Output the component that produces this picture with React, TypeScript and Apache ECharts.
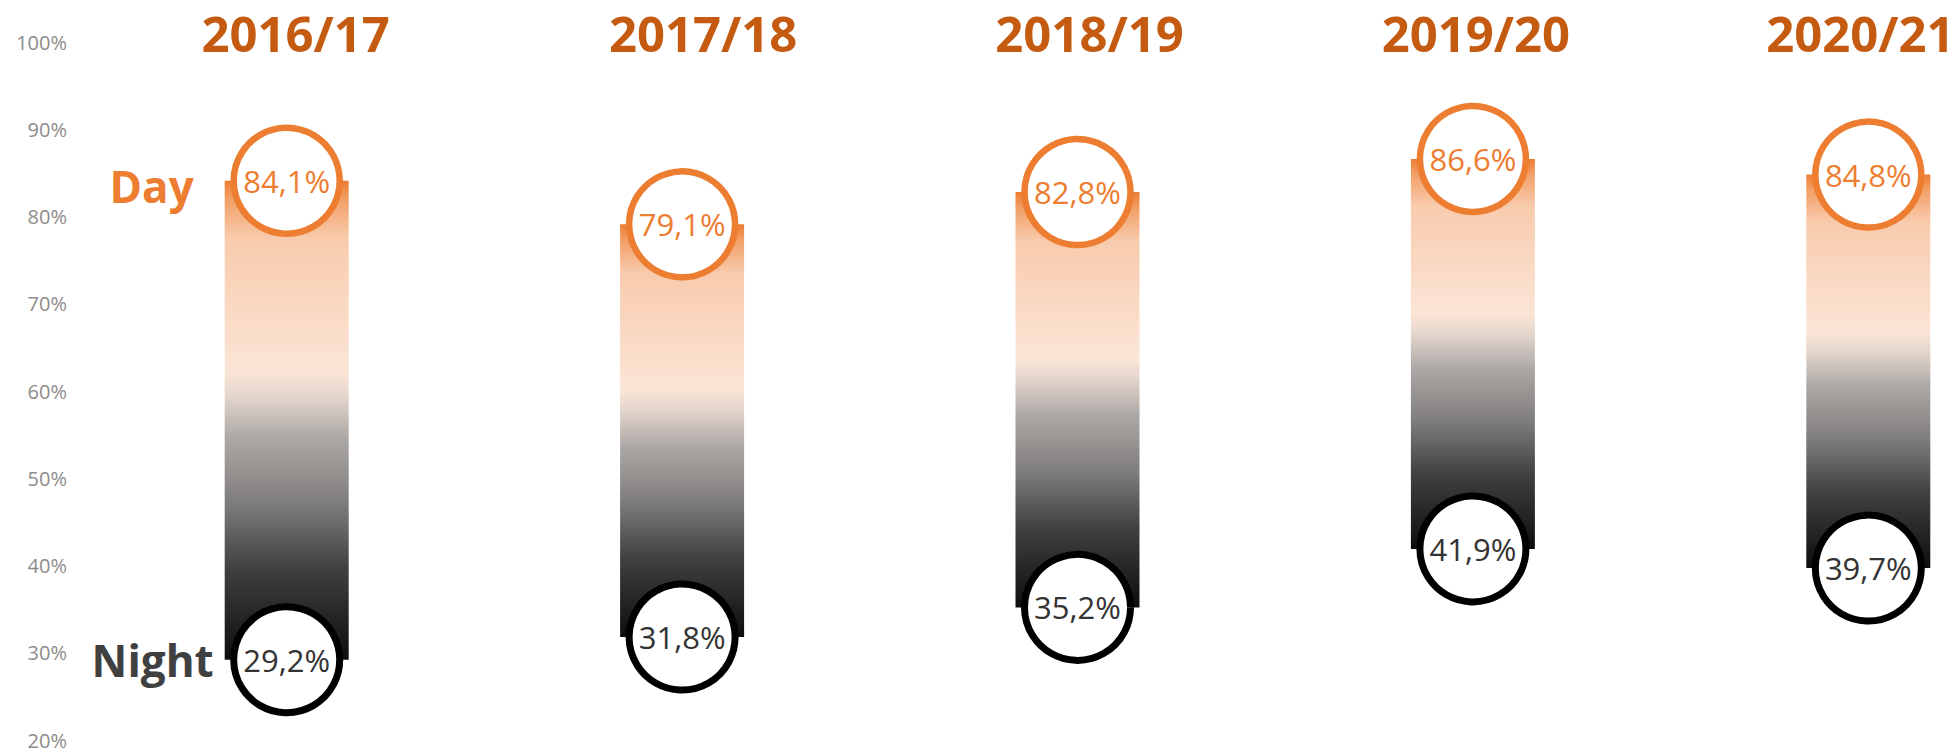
import React, { useEffect, useRef } from "react";
import * as echarts from "echarts";

const years = ["2016/17", "2017/18", "2018/19", "2019/20", "2020/21"];
const dayValues = [84.1, 79.1, 82.8, 86.6, 84.8];
const nightValues = [29.2, 31.8, 35.2, 41.9, 39.7];
const yMin = 20;
const yMax = 100;
const yInterval = 10;
// horizontal nudge of each year heading relative to its column (px)
const titleShift = [9, 21, 12, 3, -8];

const FONT = "'Open Sans', 'Noto Sans', sans-serif";
const ORANGE = "#ED7D31";
const DARK_ORANGE = "#C55A11";

const fmt = (v: number) => v.toFixed(1).replace(".", ",") + "%";

export default function App() {
  const ref = useRef<HTMLDivElement>(null);

  useEffect(() => {
    if (!ref.current) return;
    const chart = echarts.init(ref.current, null, { renderer: "svg" });

    const gradient = new echarts.graphic.LinearGradient(0, 0, 0, 1, [
      { offset: 0, color: "#ED7D31" },
      { offset: 0.04, color: "#F2A067" },
      { offset: 0.12, color: "#F8CBAD" },
      { offset: 0.4, color: "#FBE5D6" },
      { offset: 0.45, color: "#E3D5CC" },
      { offset: 0.54, color: "#ABA7A5" },
      { offset: 0.67, color: "#807E7D" },
      { offset: 0.81, color: "#404040" },
      { offset: 1, color: "#0D0D0D" },
    ]);

    const rangeValues = dayValues.map((d, i) => +(d - nightValues[i]).toFixed(1));

    const circleSize = 106;

    chart.setOption({
      animation: false,
      grid: { left: 89, top: 42, width: 1977, bottom: 12, outerBoundsMode: "none", containLabel: false },
      xAxis: {
        type: "category",
        position: "top",
        data: years.map((y, i) => ({
          value: y,
          textStyle: {
            fontFamily: FONT,
            fontSize: 49,
            fontWeight: "bold",
            color: DARK_ORANGE,
            verticalAlign: "middle",
            padding: titleShift[i] >= 0 ? [0, 0, 0, 2 * titleShift[i]] : [0, -2 * titleShift[i], 0, 0],
          },
        })),
        axisLine: { show: false },
        axisTick: { show: false },
        axisLabel: {
          fontFamily: FONT,
          fontSize: 49,
          fontWeight: "bold",
          color: DARK_ORANGE,
          margin: 9,
          verticalAlign: "middle",
        },
      },
      yAxis: {
        type: "value",
        min: yMin,
        max: yMax,
        interval: yInterval,
        axisLine: { show: false },
        axisTick: { show: false },
        splitLine: { show: false },
        axisLabel: {
          formatter: "{value}%",
          fontFamily: FONT,
          fontSize: 20,
          color: "#8C8C8C",
          margin: 22,
        },
      },
      series: [
        {
          type: "bar",
          stack: "range",
          data: nightValues,
          barWidth: 124,
          silent: true,
          itemStyle: { color: "transparent" },
        },
        {
          type: "bar",
          stack: "range",
          data: rangeValues,
          barWidth: 124,
          silent: true,
          itemStyle: { color: gradient },
        },
        {
          name: "Day",
          type: "scatter",
          data: dayValues,
          symbol: "circle",
          symbolSize: circleSize,
          z: 5,
          itemStyle: { color: "#fff", borderColor: ORANGE, borderWidth: 6.5, opacity: 1 },
          label: {
            show: true,
            position: "inside",
            formatter: (p: any) => fmt(p.value),
            fontFamily: FONT,
            fontSize: 31,
            color: ORANGE,
          },
        },
        {
          name: "Night",
          type: "scatter",
          data: nightValues,
          symbol: "circle",
          symbolSize: circleSize,
          z: 5,
          itemStyle: { color: "#fff", borderColor: "#000", borderWidth: 7, opacity: 1 },
          label: {
            show: true,
            position: "inside",
            formatter: (p: any) => fmt(p.value),
            fontFamily: FONT,
            fontSize: 31,
            color: "#333333",
          },
        },
        {
          type: "scatter",
          silent: true,
          symbolSize: circleSize,
          itemStyle: { color: "rgba(0,0,0,0)", opacity: 1 },
          z: 6,
          data: dayValues.map((v, i) => ({
            value: v,
            label: {
              show: i === 0,
              position: "left",
              distance: 40,
              formatter: "Day",
              fontFamily: FONT,
              fontSize: 44,
              fontWeight: "bold",
              color: ORANGE,
              offset: [0, 5],
            },
          })),
        },
        {
          type: "scatter",
          silent: true,
          symbolSize: circleSize,
          itemStyle: { color: "rgba(0,0,0,0)", opacity: 1 },
          z: 6,
          data: nightValues.map((v, i) => ({
            value: v,
            label: {
              show: i === 0,
              position: "left",
              distance: 20,
              formatter: "Night",
              fontFamily: FONT,
              fontSize: 44,
              fontWeight: "bold",
              color: "#404040",
            },
          })),
        },
      ],
    });

    return () => chart.dispose();
  }, []);

  return (
    <div
      ref={ref}
      style={{ position: "fixed", left: 0, top: 0, width: 1959, height: 752, background: "#fff" }}
    />
  );
}
